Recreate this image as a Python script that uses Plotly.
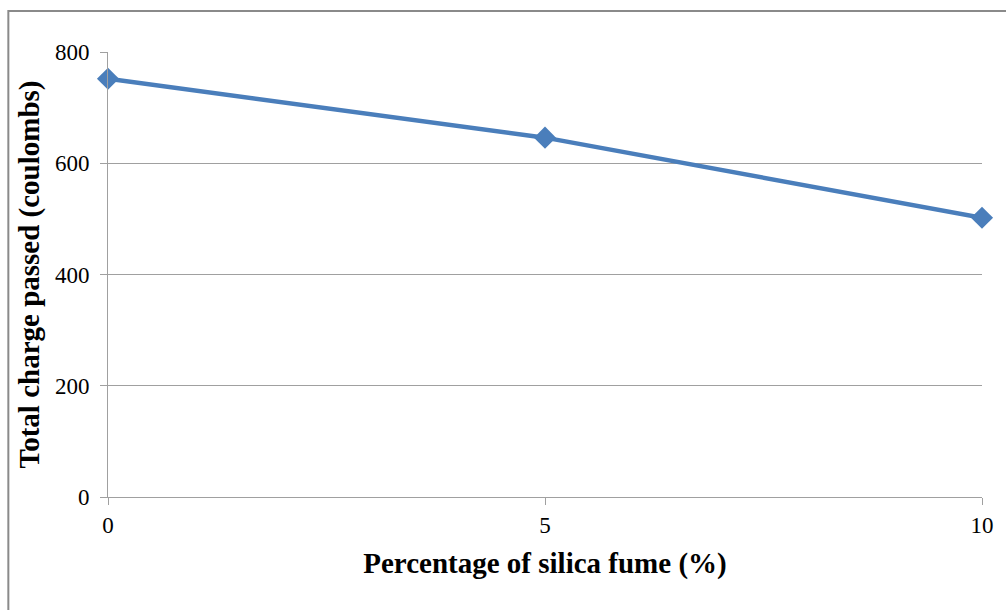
import plotly.graph_objects as go

silica_fume_pct = [0, 5, 10]
total_charge = [752, 646, 502]
x_ticks = [0, 5, 10]
y_ticks = [0, 200, 400, 600, 800]

W, H = 1006, 610
L, R, T, B = 108, 21, 52, 113
pw, ph = W - L - R, H - T - B

fig = go.Figure()
fig.add_trace(go.Scatter(
    x=silica_fume_pct, y=total_charge, mode="lines+markers",
    line=dict(color="#4A7EBB", width=4.5),
    marker=dict(symbol="diamond", size=17, color="#4A7EBB"),
    showlegend=False, cliponaxis=False,
))

font_family = "Liberation Serif, Times New Roman, serif"
fig.update_layout(
    width=W, height=H,
    margin=dict(l=L, r=R, t=T, b=B),
    paper_bgcolor="white", plot_bgcolor="white",
    font=dict(family=font_family, color="black", size=23),
    xaxis=dict(
        range=[0, 10], tickvals=x_ticks, ticktext=[str(v) for v in x_ticks],
        showgrid=False, zeroline=False, showline=True, linecolor="#a0a0a0", linewidth=1,
        ticks="outside", ticklen=7, tickcolor="#a0a0a0",
        tickfont=dict(size=23, family=font_family),
        title=dict(text="<b>Percentage of silica fume (%)</b>",
                   font=dict(size=29, family=font_family), standoff=16),
    ),
    yaxis=dict(
        range=[0, 800], tickvals=y_ticks,
        showgrid=True, gridcolor="#a0a0a0", gridwidth=1, zeroline=False,
        showline=True, linecolor="#a0a0a0", linewidth=1,
        ticks="outside", ticklen=7, tickcolor="#a0a0a0",
        tickfont=dict(size=23, family=font_family), ticklabelstandoff=6,
        title=dict(text="<b>Total charge passed (coulombs)</b>",
                   font=dict(size=29, family=font_family), standoff=6),
    ),
)

# outer chart frame (extends past right/bottom of the view)
fig.add_shape(type="rect", xref="paper", yref="paper",
              x0=(8 - L) / pw, x1=(W + 20 - L) / pw,
              y0=-(B + 20) / ph, y1=1 + (T - 11) / ph,
              line=dict(color="#8a8a8a", width=2), layer="below")

fig.write_html("out.html")
